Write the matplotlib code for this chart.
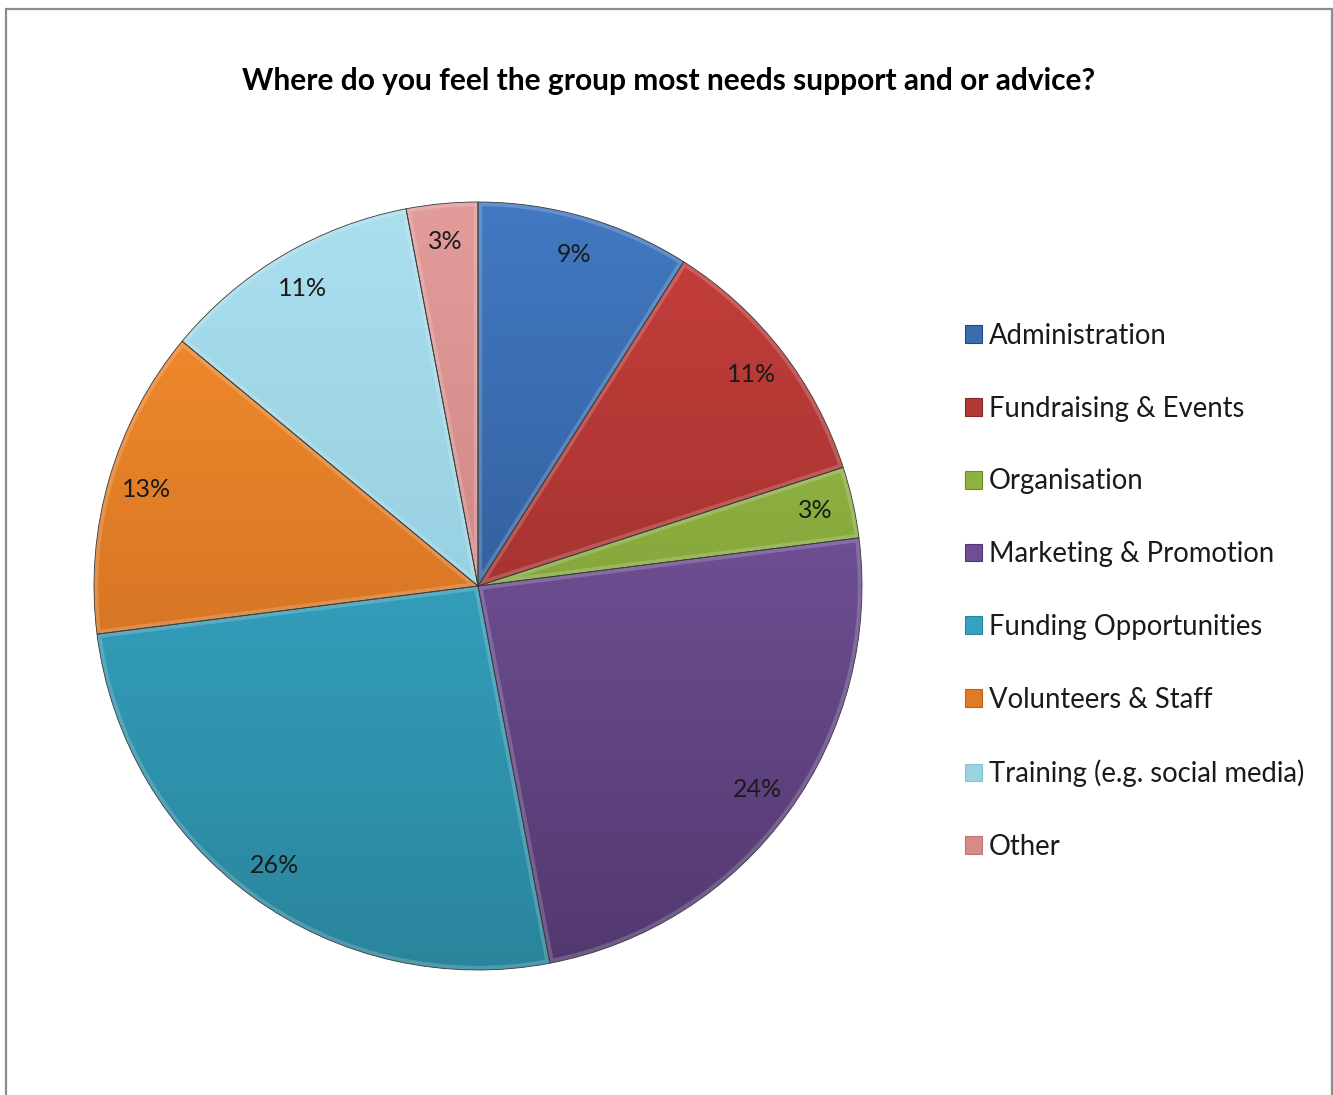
import numpy as np
import matplotlib
matplotlib.use("Agg")
import matplotlib.pyplot as plt
from matplotlib.colors import LinearSegmentedColormap
from matplotlib.patches import Rectangle, Patch, PathPatch

plt.rcParams['font.family'] = ['Lato', 'DejaVu Sans']

title = "Where do you feel the group most needs support and or advice?"
categories = ["Administration", "Fundraising & Events", "Organisation",
              "Marketing & Promotion", "Funding Opportunities",
              "Volunteers & Staff", "Training (e.g. social media)", "Other"]
shares = [9, 11, 3, 24, 26, 13, 11, 3]

# light (top of pie) and dark (bottom of pie) shade for each slice
light = ["#4279C2", "#C73F3C", "#A0C44A", "#8360AE", "#3CB5D8", "#FA902F", "#AADFEE", "#E29C9A"]
dark = ["#254A7E", "#872926", "#6C8A2E", "#52386F", "#2A859C", "#BC621D", "#84C2D4", "#BF7673"]
base = ["#3A6DAE", "#B33835", "#8FB23F", "#704E96", "#34A2C0", "#E07A26", "#9BD3E3", "#D68B89"]

W, H = 1333, 1095
fig = plt.figure(figsize=(W / 100, H / 100), dpi=100)
ax = fig.add_axes([0, 0, 1, 1])
ax.set_xlim(0, W)
ax.set_ylim(0, H)
ax.axis("off")

# chart frame
ax.add_patch(Rectangle((5.5, -10), 1326, H - 8.5 + 10, fill=False,
                       edgecolor="#8C8C8C", linewidth=1.6, zorder=1))

cx, cy, R = 478, H - 586, 384
wedges, texts, autotexts = ax.pie(
    shares, colors=base, startangle=90, counterclock=False,
    center=(cx, cy), radius=R, autopct=lambda p: f"{p:.0f}%",
    pctdistance=0.9, frame=True,
    wedgeprops=dict(edgecolor="#3A3A3A", linewidth=0.6),
    textprops=dict(fontsize=18, color="#1A1A1A"))

grad = np.linspace(0, 1, 256).reshape(-1, 1)
for w, lo, hi in zip(wedges, dark, light):
    cmap = LinearSegmentedColormap.from_list("shade", [lo, hi])
    im = ax.imshow(grad, extent=(cx - R, cx + R, cy - R, cy + R), origin="lower",
                   cmap=cmap, aspect="auto", zorder=2, interpolation="bilinear")
    im.set_clip_path(w)
    # soft bevel along the slice border
    bevel = PathPatch(w.get_path(), transform=w.get_transform(), facecolor="none",
                      edgecolor="white", alpha=0.18, linewidth=6, zorder=2.5)
    ax.add_patch(bevel)
    bevel.set_clip_path(w)
    w.set_facecolor("none")
    w.set_zorder(3)
for t in autotexts:
    t.set_zorder(5)

ax.set_xlim(0, W)
ax.set_ylim(0, H)
ax.set_aspect("auto")
ax.axis("off")

ax.text(669, H - 81, title, ha="center", va="center", fontsize=21.5,
        fontweight="bold", color="#000000")

handles = [Patch(facecolor=c, edgecolor=d, linewidth=0.8) for c, d in zip(base, dark)]
leg = ax.legend(handles, categories, loc="upper left",
                bbox_to_anchor=(954 / W, 1 - 312 / H), frameon=False,
                fontsize=19.8, handlelength=0.62, handleheight=0.62,
                handletextpad=0.25, labelspacing=1.70, borderaxespad=0)
for t in leg.get_texts():
    t.set_color("#1A1A1A")

fig.savefig("out.png", dpi=100)
